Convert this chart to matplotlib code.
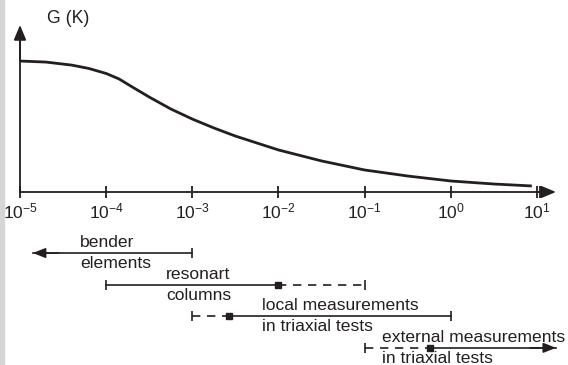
import numpy as np
import matplotlib
matplotlib.use("Agg")
import matplotlib.pyplot as plt
from matplotlib.patches import Rectangle
from matplotlib.ticker import FixedLocator

plt.rcParams['font.family'] = ['Liberation Sans', 'DejaVu Sans']
plt.rcParams['mathtext.fontset'] = 'custom'
plt.rcParams['mathtext.rm'] = 'Liberation Sans'
plt.rcParams['mathtext.it'] = 'Liberation Sans'

INK = '#231f20'

# G-curve: log10(shear strain) and normalised stiffness
curve_logx = [-5.0, -4.7, -4.4, -4.2, -4.0, -3.85, -3.7, -3.5, -3.25, -3.0,
              -2.75, -2.5, -2.25, -2.0, -1.5, -1.0, -0.5, 0.0, 0.5, 0.94]
curve_g = [1.000, 0.992, 0.969, 0.943, 0.905, 0.863, 0.803, 0.725, 0.634,
           0.557, 0.489, 0.427, 0.374, 0.321, 0.237, 0.168, 0.122, 0.084,
           0.061, 0.046]

decades = [-5, -4, -3, -2, -1, 0, 1]
tick_labels = [r'$10^{-5}$', r'$10^{-4}$', r'$10^{-3}$', r'$10^{-2}$',
               r'$10^{-1}$', r'$10^{0}$', r'$10^{1}$']

# strain ranges of each test method (log10 strain)
label_top = ['bender', 'resonart', 'local measurements', 'external measurements']
label_bot = ['elements', 'columns', 'in triaxial tests', 'in triaxial tests']
range_lo = [-4.85, -4.0, -3.0, -1.0]
range_hi = [-3.0, -1.0, 0.0, 1.22]
range_split = [None, -2.0, -2.575, -0.24]   # square marker, dashed on one side
dashed_side = [None, 'right', 'left', 'left']
left_end = ['arrow', 'tick', 'tick', 'tick']
right_end = ['tick', 'tick', 'tick', 'arrow']

fig = plt.figure(figsize=(5.68, 3.65), dpi=100)
fig.patches.append(Rectangle((0, 0), 4 / 568, 1, transform=fig.transFigure,
                             color='#d6d6d6', zorder=0))
ax = fig.add_axes([0, 0, 1, 1])
ax.patch.set_alpha(0)
ax.set_xscale('log')
ax.set_xlim(10 ** -5.232, 10 ** 1.360)
ax.set_ylim(-1.321, 1.466)

# axes drawn as arrows
ax.spines[['top', 'right']].set_visible(False)
ax.spines['bottom'].set_position(('data', 0))
ax.spines['bottom'].set_bounds(1e-5, 10 ** 1.1)
ax.spines['left'].set_position(('data', 1e-5))
ax.spines['left'].set_bounds(0, 1.2)
for s in ['bottom', 'left']:
    ax.spines[s].set_linewidth(1.3)
    ax.spines[s].set_color(INK)
ax.annotate('', xy=(10 ** 1.22, 0), xytext=(10 ** 1.0, 0),
            arrowprops=dict(arrowstyle='-|>,head_length=0.6,head_width=0.25',
                            mutation_scale=15, lw=1.3, color=INK,
                            shrinkA=0, shrinkB=0))
ax.annotate('', xy=(1e-5, 1.275), xytext=(1e-5, 1.0),
            arrowprops=dict(arrowstyle='-|>,head_length=0.6,head_width=0.25',
                            mutation_scale=15, lw=1.3, color=INK,
                            shrinkA=0, shrinkB=0))

ax.set_xticks(10.0 ** np.array(decades))
ax.set_xticklabels(tick_labels)
ax.xaxis.set_minor_locator(FixedLocator([10 ** 1.035]))
ax.tick_params(axis='x', which='both', direction='inout', length=8, width=1.3,
               color=INK, labelcolor=INK, labelsize=12.5, pad=3)
ax.tick_params(axis='x', which='minor', labelbottom=False)
ax.set_yticks([])

ax.text(10 ** -4.687, 1.328, 'G (K)', fontsize=12.7, color=INK,
        ha='left', va='center')

ax.plot(10.0 ** np.array(curve_logx), curve_g, color=INK, lw=2.0,
        solid_capstyle='butt', solid_joinstyle='round')

# method ranges
row_y = [-0.466, -0.71, -0.947, -1.19]
text_x = [-4.304, -3.306, -2.192, -0.799]
dy = 0.082
for i in range(len(label_top)):
    y = row_y[i]
    lo, hi, sp = range_lo[i], range_hi[i], range_split[i]
    if sp is None:
        ax.plot([10 ** lo, 10 ** hi], [y, y], color=INK, lw=1.2)
    else:
        if dashed_side[i] == 'right':
            solid, dash = (lo, sp), (sp, hi)
        else:
            solid, dash = (sp, hi), (lo, sp)
        ax.plot([10 ** solid[0], 10 ** solid[1]], [y, y], color=INK, lw=1.2)
        ax.plot([10 ** dash[0], 10 ** dash[1]], [y, y], color=INK, lw=1.2,
                linestyle=(0, (5, 4)))
        ax.plot([10 ** sp], [y], marker='s', ms=4.5, color=INK, mec=INK)
    for end, x, other in [(left_end[i], lo, hi), (right_end[i], hi, lo)]:
        if end == 'tick':
            ax.plot([10 ** x], [y], marker='|', ms=6.5, mew=1.2, color=INK)
        else:
            back = x + 0.3 * np.sign(other - x)
            ax.annotate('', xy=(10 ** x, y), xytext=(10 ** back, y),
                        arrowprops=dict(arrowstyle='-|>,head_length=0.5,head_width=0.2',
                                        mutation_scale=15, lw=1.2, color=INK,
                                        shrinkA=0, shrinkB=0))
    ax.text(10 ** text_x[i], y + dy, label_top[i], fontsize=12.6, color=INK,
            ha='left', va='center')
    ax.text(10 ** text_x[i], y - dy, label_bot[i], fontsize=12.6, color=INK,
            ha='left', va='center')

fig.savefig('out.png', dpi=100)
